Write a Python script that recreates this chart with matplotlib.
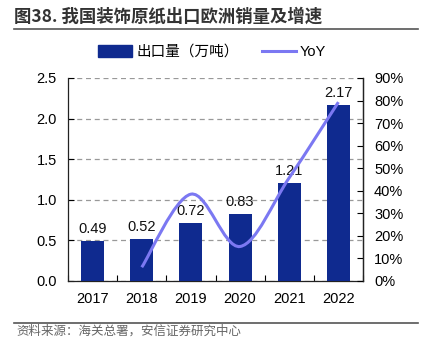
import matplotlib
matplotlib.use("Agg")
import matplotlib.pyplot as plt
import numpy as np
from matplotlib.path import Path
from matplotlib.patches import PathPatch, Patch
from matplotlib.lines import Line2D

plt.rcParams['font.family'] = ['Liberation Sans', 'Noto Sans CJK SC', 'DejaVu Sans']

years = ['2017', '2018', '2019', '2020', '2021', '2022']
volume = [0.49, 0.52, 0.72, 0.83, 1.21, 2.17]
yoy_years = ['2018', '2019', '2020', '2021', '2022']
yoy = [6.1, 38.5, 15.3, 45.8, 79.3]
left_ticks = [0.0, 0.5, 1.0, 1.5, 2.0, 2.5]
right_ticks = [0, 10, 20, 30, 40, 50, 60, 70, 80, 90]

bar_color = '#0f2a8f'
line_color = '#7b78f2'

fig = plt.figure(figsize=(4.29, 3.53), dpi=100)
W, H = 429, 353
ax = fig.add_axes([68 / W, 1 - 281 / H, (363 - 68) / W, (281 - 78) / H])

x = np.arange(len(years))
ax.bar(x, volume, width=0.47, color=bar_color, zorder=3)
for xi, v in zip(x, volume):
    ax.text(xi, v + 0.06, f'{v:.2f}', ha='center', va='bottom', fontsize=10.5, color='#111111')

ax.set_xlim(-0.5, len(years) - 0.5)
ax.set_ylim(0, 2.5)
ax.set_yticks(left_ticks)
ax.set_yticklabels([f'{t:.1f}' for t in left_ticks], fontsize=10.5)
ax.set_xticks(x)
ax.set_xticklabels(years, fontsize=10.5)
ax.tick_params(axis='x', length=0, pad=8)
ax.set_xticks(np.arange(-0.5, len(years) - 0.4, 1), minor=True)
ax.tick_params(axis='x', which='minor', direction='in', length=4, width=0.8)
ax.tick_params(axis='y', direction='in', length=4, width=0.8, pad=8)
ax.grid(axis='y', linestyle=(0, (4, 3)), color='#999999', linewidth=0.9, zorder=0)
ax.spines['top'].set_visible(False)
for s in ['left', 'bottom', 'right']:
    ax.spines[s].set_color('#222222')
    ax.spines[s].set_linewidth(0.9)

ax2 = ax.twinx()
ax2.set_ylim(0, 90)
ax2.set_yticks(right_ticks)
ax2.set_yticklabels([f'{t}%' for t in right_ticks], fontsize=10.5)
ax2.tick_params(axis='y', direction='in', length=4, width=0.8, pad=8)
for s in ['top', 'left', 'bottom']:
    ax2.spines[s].set_visible(False)
ax2.spines['right'].set_color('#222222')
ax2.spines['right'].set_linewidth(0.9)

# smooth curve (Catmull-Rom -> cubic Bezier) through YoY points
px = np.array([years.index(y) for y in yoy_years], dtype=float)
py = np.array(yoy, dtype=float)
verts = [(px[0], py[0])]
codes = [Path.MOVETO]
n = len(px)
t = 1 / 6
for i in range(n - 1):
    p0 = (px[i - 1], py[i - 1]) if i > 0 else (px[i], py[i])
    p1 = (px[i], py[i])
    p2 = (px[i + 1], py[i + 1])
    p3 = (px[i + 2], py[i + 2]) if i + 2 < n else (px[i + 1], py[i + 1])
    c1 = (p1[0] + (p2[0] - p0[0]) * t, p1[1] + (p2[1] - p0[1]) * t)
    c2 = (p2[0] - (p3[0] - p1[0]) * t, p2[1] - (p3[1] - p1[1]) * t)
    verts += [c1, c2, p2]
    codes += [Path.CURVE4] * 3
ax2.add_patch(PathPatch(Path(verts, codes), facecolor='none', edgecolor=line_color, lw=2.2, zorder=4))

# legend
handles = [Patch(facecolor=bar_color, edgecolor=bar_color),
           Line2D([0], [0], color=line_color, lw=2.2)]
fig.legend(handles, ['出口量（万吨）', 'YoY'], loc='center', bbox_to_anchor=(0.495, 1 - 52 / H),
           ncol=2, frameon=False, fontsize=10.5, handlelength=2.3, handleheight=0.8,
           columnspacing=1.6, handletextpad=0.3)

# title and rules
fig.text(14 / W, 1 - 17 / H, '图38. 我国装饰原纸出口欧洲销量及增速', fontsize=12.5, fontweight='bold',
         va='center', ha='left', color='#333333',
         family=['Noto Sans CJK SC', 'DejaVu Sans'])
fig.add_artist(Line2D([14 / W, 418 / W], [1 - 29 / H, 1 - 29 / H], color='#555555', lw=1.2))
fig.add_artist(Line2D([14 / W, 418 / W], [1 - 323 / H, 1 - 323 / H], color='#555555', lw=1.2))
fig.text(16 / W, 1 - 331 / H, '资料来源：海关总署，安信证券研究中心', fontsize=9, style='italic',
         va='center', ha='left', color='#666666',
         family=['Noto Sans CJK SC', 'DejaVu Sans'])

fig.savefig('out.png', dpi=100)
